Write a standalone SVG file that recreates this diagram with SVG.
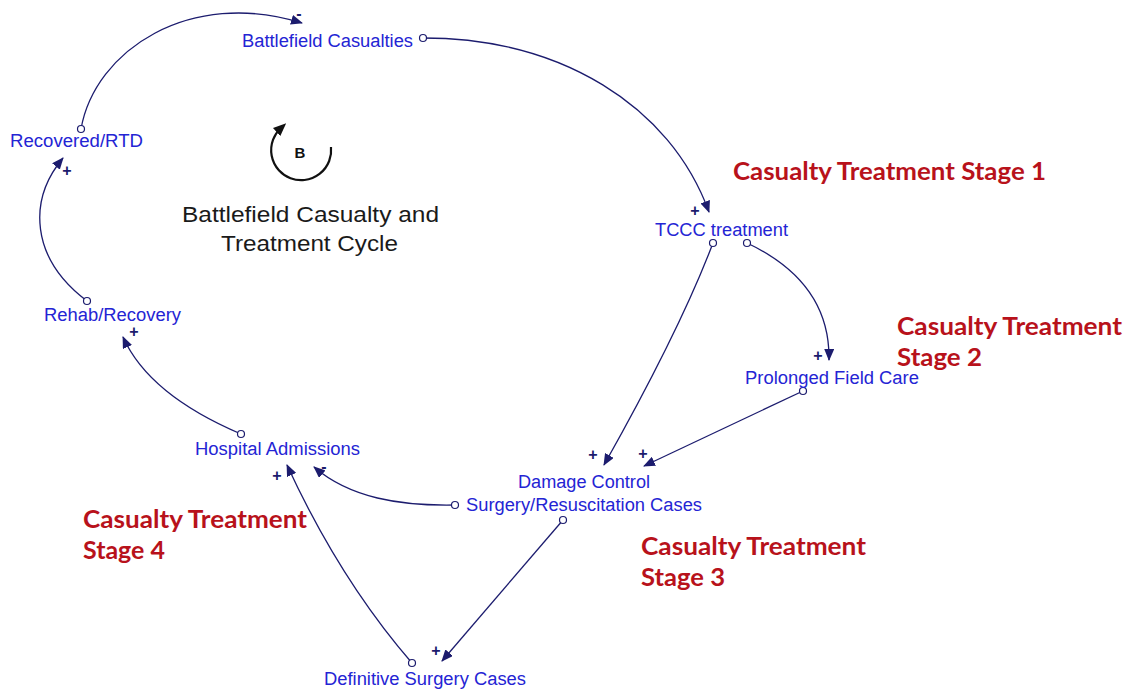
<svg xmlns="http://www.w3.org/2000/svg" width="1131" height="691" viewBox="0 0 1131 691">
  <style>
    .var { font-family: "Liberation Sans", Arial, sans-serif; font-size: 18px; fill: #2424d4; }
    .stage { font-family: Lato, "Open Sans", sans-serif; font-weight: bold; font-size: 25px; fill: #b8121b; }
    .title { font-family: "Liberation Sans", Arial, sans-serif; font-size: 22px; fill: #1a1a1a; }
    .link { fill: none; stroke: #1c1c6e; stroke-width: 1.3; marker-end: url(#arrow); }
    .tail { fill: #ffffff; stroke: #1c1c6e; stroke-width: 1.2; }
    .pol { font-family: "Liberation Sans", Arial, sans-serif; font-size: 16px; font-weight: bold; fill: #1c1c6e; }
  </style>
  <defs>
    <marker id="arrow" markerWidth="12" markerHeight="10" refX="11" refY="5" orient="auto" markerUnits="userSpaceOnUse">
      <path d="M0,0 L12,5 L0,10 Z" fill="#1c1c6e"/>
    </marker>
    <marker id="loopArrow" markerWidth="13" markerHeight="11" refX="6" refY="5.5" orient="auto" markerUnits="userSpaceOnUse">
      <path d="M0,0 L13,5.5 L0,11 Z" fill="#111111"/>
    </marker>
  </defs>

  <rect width="1131" height="691" fill="#ffffff"/>

  <!-- causal links -->
  <g id="connectors">
    <path class="link" d="M81,129 C95,50 190,-12 302,23"/>
    <path class="link" d="M423,38 C560,38 670,105 709,212"/>
    <path class="link" d="M713,243 Q680,330 604,465"/>
    <path class="link" d="M747,243 C800,268 830,305 829,360"/>
    <path class="link" d="M803,391 L644,466"/>
    <path class="link" d="M455,505 C400,506 350,498 314,467"/>
    <path class="link" d="M563,520 L442,661"/>
    <path class="link" d="M412,663 Q340,580 287,465"/>
    <path class="link" d="M241,434 C180,408 140,375 123,337"/>
    <path class="link" d="M87,301 C30,258 28,200 63,158"/>

    <circle class="tail" cx="81" cy="129" r="3.5"/>
    <circle class="tail" cx="423" cy="38" r="3.5"/>
    <circle class="tail" cx="713" cy="243" r="3.5"/>
    <circle class="tail" cx="747" cy="243" r="3.5"/>
    <circle class="tail" cx="803" cy="391" r="3.5"/>
    <circle class="tail" cx="455" cy="505" r="3.5"/>
    <circle class="tail" cx="563" cy="520" r="3.5"/>
    <circle class="tail" cx="412" cy="663" r="3.5"/>
    <circle class="tail" cx="241" cy="434" r="3.5"/>
    <circle class="tail" cx="87" cy="301" r="3.5"/>

    <!-- polarity signs -->
    <text class="pol" x="299" y="19" text-anchor="middle">-</text>
    <text class="pol" x="695" y="216" text-anchor="middle">+</text>
    <text class="pol" x="593" y="460" text-anchor="middle">+</text>
    <text class="pol" x="818" y="361" text-anchor="middle">+</text>
    <text class="pol" x="643" y="459" text-anchor="middle">+</text>
    <text class="pol" x="324" y="472" text-anchor="middle" font-size="12">-</text>
    <text class="pol" x="436" y="656" text-anchor="middle">+</text>
    <text class="pol" x="277" y="481" text-anchor="middle">+</text>
    <text class="pol" x="134" y="337" text-anchor="middle">+</text>
    <text class="pol" x="67" y="176" text-anchor="middle">+</text>
  </g>

  <g id="battlefield-casualties"><text class="var" x="242" y="47" textLength="171" lengthAdjust="spacingAndGlyphs">Battlefield Casualties</text></g>
  <g id="recovered-rtd"><text class="var" x="10" y="147" textLength="133" lengthAdjust="spacingAndGlyphs">Recovered/RTD</text></g>
  <g id="tccc-treatment"><text class="var" x="655" y="236" textLength="133" lengthAdjust="spacingAndGlyphs">TCCC treatment</text></g>
  <g id="prolonged-field-care"><text class="var" x="745" y="384" textLength="174" lengthAdjust="spacingAndGlyphs">Prolonged Field Care</text></g>
  <g id="rehab-recovery"><text class="var" x="44" y="321" textLength="137" lengthAdjust="spacingAndGlyphs">Rehab/Recovery</text></g>
  <g id="hospital-admissions"><text class="var" x="195" y="455" textLength="165" lengthAdjust="spacingAndGlyphs">Hospital Admissions</text></g>
  <g id="damage-control">
    <text class="var" x="518" y="488" textLength="132" lengthAdjust="spacingAndGlyphs">Damage Control</text>
    <text class="var" x="466" y="511" textLength="236" lengthAdjust="spacingAndGlyphs">Surgery/Resuscitation Cases</text>
  </g>
  <g id="definitive-surgery"><text class="var" x="324" y="685" textLength="202" lengthAdjust="spacingAndGlyphs">Definitive Surgery Cases</text></g>

  <!-- balancing loop marker -->
  <g id="loop-b">
    <path d="M331,147 A30,30 0 1 1 281,128" fill="none" stroke="#111111" stroke-width="2.2" marker-end="url(#loopArrow)"/>
    <text x="300" y="158" text-anchor="middle" font-family="Liberation Sans, Arial, sans-serif" font-weight="bold" font-size="15" fill="#111111">B</text>
    <text class="title" x="182" y="222" textLength="257" lengthAdjust="spacingAndGlyphs">Battlefield Casualty and</text>
    <text class="title" x="221" y="251" textLength="177" lengthAdjust="spacingAndGlyphs">Treatment Cycle</text>
  </g>

  <g id="stage-labels">
    <text class="stage" x="733" y="180" textLength="313" lengthAdjust="spacingAndGlyphs">Casualty Treatment Stage 1</text>
    <text class="stage" x="897" y="335" textLength="225" lengthAdjust="spacingAndGlyphs">Casualty Treatment</text>
    <text class="stage" x="897" y="366" textLength="85" lengthAdjust="spacingAndGlyphs">Stage 2</text>
    <text class="stage" x="641" y="555" textLength="225" lengthAdjust="spacingAndGlyphs">Casualty Treatment</text>
    <text class="stage" x="641" y="586" textLength="84" lengthAdjust="spacingAndGlyphs">Stage 3</text>
    <text class="stage" x="83" y="528" textLength="224" lengthAdjust="spacingAndGlyphs">Casualty Treatment</text>
    <text class="stage" x="83" y="559" textLength="82" lengthAdjust="spacingAndGlyphs">Stage 4</text>
  </g>
</svg>
